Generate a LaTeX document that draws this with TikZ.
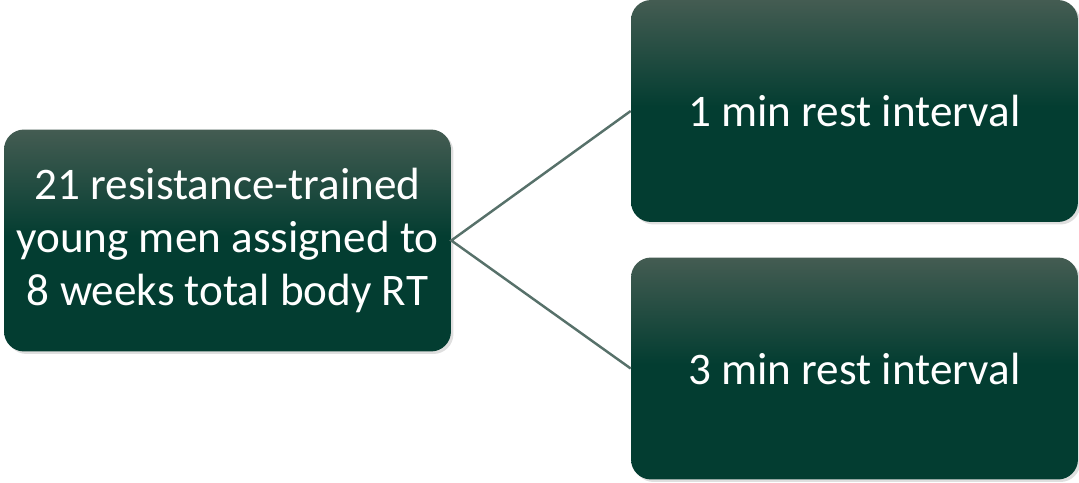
\documentclass[tikz,border=0pt]{standalone}
\usepackage{fontspec}
\setmainfont{Carlito}
\usetikzlibrary{shadows}
\definecolor{boxtop}{HTML}{445C52}
\definecolor{boxbot}{HTML}{033D31}
\definecolor{linkc}{HTML}{57716A}
\pgfdeclareverticalshading{boxshade}{100bp}{color(0bp)=(boxbot); color(25bp)=(boxbot);
	color(51bp)=(boxbot); color(75bp)=(boxtop); color(100bp)=(boxtop)}

\begin{document}
\begin{tikzpicture}[x=0.02cm,y=-0.02cm,
		box/.style={rounded corners=0.4cm,shading=boxshade,
			minimum width=8.94cm,minimum height=4.44cm,text=white,align=center,
			font=\fontsize{25.7}{30.4}\selectfont,inner sep=0pt,
			drop shadow={opacity=0.25,shadow xshift=0.05cm,shadow yshift=-0.05cm}}]
			\useasboundingbox (0,0) rectangle (1079,483);
			\node[box] (group) at (227.5,240.5) {21 resistance-trained\\young men assigned to\\8 weeks total body RT};
			\node[box] (short) at (854.5,111) {1 min rest interval};
			\node[box] (long) at (854.5,368.5) {3 min rest interval};
			\draw[linkc,line width=1.4pt] (short.west) -- (group.east) -- (long.west);
		\end{tikzpicture}
\end{document}
